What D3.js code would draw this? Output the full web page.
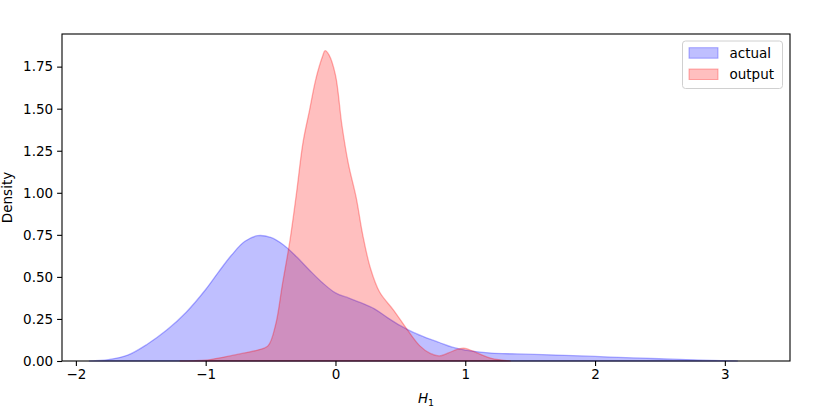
<!DOCTYPE html>
<html><head><meta charset="utf-8">
<script src="https://cdn.jsdelivr.net/npm/d3@7"></script>
<style>body{margin:0;background:#fff}svg{display:block;font-family:"DejaVu Sans",sans-serif}</style>
</head><body><svg id="c" width="830" height="415"></svg>
<script>
const actualX = [-1.9,-1.75,-1.6,-1.45,-1.3,-1.15,-1.0,-0.9,-0.8,-0.7,-0.6,-0.5,-0.4,-0.3,-0.2,-0.1,0.0,0.1,0.2,0.3,0.4,0.5,0.6,0.7,0.8,0.9,1.0,1.2,1.4,1.7,2.0,2.3,2.6,2.9,3.1];
const actualY = [0,0.008,0.035,0.10,0.184,0.29,0.425,0.53,0.63,0.71,0.745,0.735,0.69,0.62,0.54,0.465,0.405,0.375,0.345,0.31,0.258,0.21,0.17,0.138,0.11,0.082,0.065,0.047,0.042,0.035,0.027,0.018,0.011,0.004,0];
const outputX = [-1.2,-1.0,-0.85,-0.7,-0.6,-0.52,-0.46,-0.41,-0.35,-0.3,-0.25,-0.2,-0.15,-0.1,-0.08,-0.05,0.0,0.05,0.1,0.16,0.21,0.27,0.34,0.45,0.55,0.65,0.73,0.8,0.87,0.95,1.0,1.1,1.2,1.35];
const outputY = [0,0.005,0.025,0.048,0.065,0.09,0.22,0.45,0.72,1.0,1.3,1.49,1.68,1.81,1.845,1.82,1.70,1.40,1.17,0.97,0.75,0.55,0.41,0.30,0.19,0.09,0.045,0.03,0.048,0.072,0.075,0.045,0.016,0];
const xTicks = [-2,-1,0,1,2,3];
const yTicks = [0,0.25,0.5,0.75,1.0,1.25,1.5,1.75];
const seriesNames = ["actual","output"];

const svg = d3.select("#c");
const L=62,R=790,T=34,B=361;
const x = d3.scaleLinear().domain([-2.107,3.502]).range([L,R]);
const y = d3.scaleLinear().domain([0,1.944]).range([B,T]);

const series = [
  {name:seriesNames[0], xs:actualX, ys:actualY, color:"#0000ff"},
  {name:seriesNames[1], xs:outputX, ys:outputY, color:"#ff0000"}
];
const area = d3.area().x(d=>x(d[0])).y0(y(0)).y1(d=>Math.min(y(d[1]),B)).curve(d3.curveCatmullRom.alpha(0.5));
series.forEach(s=>{
  const pts = s.xs.map((v,i)=>[v,s.ys[i]]);
  svg.append("path").attr("d",area(pts))
    .attr("fill",s.color).attr("fill-opacity",0.25)
    .attr("stroke",s.color).attr("stroke-opacity",0.3).attr("stroke-width",1.3);
});

const fs = "13.5px";
const xa = svg.append("g").attr("transform",`translate(0,${B})`)
  .call(d3.axisBottom(x).tickValues(xTicks).tickSize(4.9).tickPadding(4).tickFormat(d=>d<0?"\u2212"+Math.abs(d):d));
const ya = svg.append("g").attr("transform",`translate(${L},0)`)
  .call(d3.axisLeft(y).tickValues(yTicks).tickSize(4.9).tickPadding(4).tickFormat(d3.format(".2f")));
[xa,ya].forEach(a=>{
  a.select(".domain").remove();
  a.selectAll("text").attr("font-size",fs).attr("font-family","DejaVu Sans").attr("fill","#000");
  a.selectAll("line").attr("stroke","#000").attr("stroke-width",1.1);
});
svg.append("rect").attr("x",L).attr("y",T).attr("width",R-L).attr("height",B-T)
  .attr("fill","none").attr("stroke","#000").attr("stroke-width",1.1);

svg.append("text").attr("x",(L+R)/2).attr("y",403).attr("text-anchor","middle")
  .attr("font-size",fs).attr("font-style","italic")
  .html('H<tspan dy="3" font-size="9.5px" font-style="normal">1</tspan>');
svg.append("text").attr("transform",`translate(12,${(T+B)/2}) rotate(-90)`)
  .attr("text-anchor","middle").attr("font-size",fs).text("Density");

const lg = svg.append("g");
lg.append("rect").attr("x",682.5).attr("y",41).attr("width",100).attr("height",47.5).attr("rx",3)
  .attr("fill","#fff").attr("fill-opacity",0.8).attr("stroke","#d0d0d0");
series.forEach((s,i)=>{
  const yy = 47.7 + i*21.3;
  lg.append("rect").attr("x",689).attr("y",yy).attr("width",29).attr("height",10.5)
    .attr("fill",s.color).attr("fill-opacity",0.25).attr("stroke",s.color).attr("stroke-opacity",0.3);
  lg.append("text").attr("x",729.5).attr("y",yy+10.3).attr("font-size",fs).text(s.name);
});
</script></body></html>
